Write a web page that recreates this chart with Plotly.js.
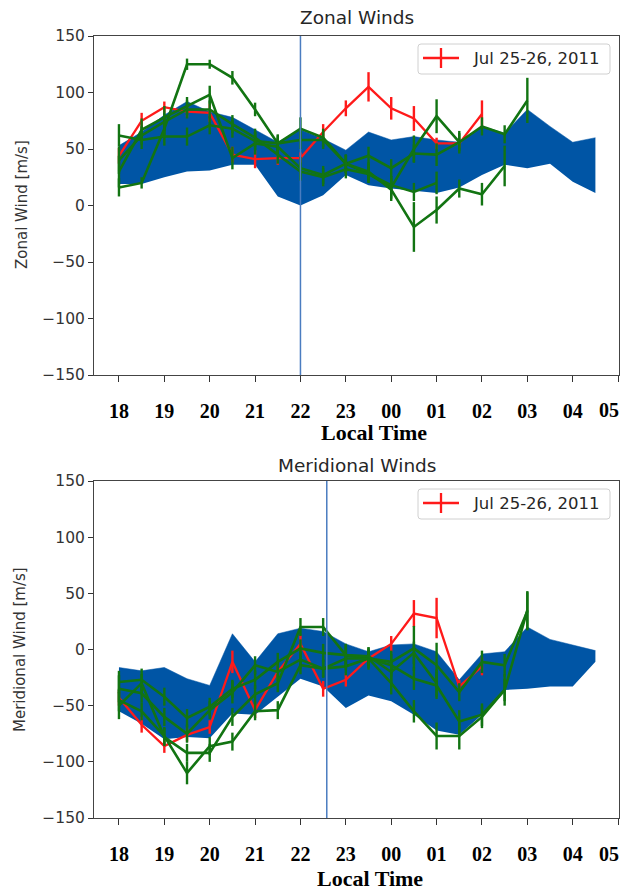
<!DOCTYPE html>
<html>
<head>
<meta charset="utf-8">
<script src="https://cdn.plot.ly/plotly-3.0.1.min.js"></script>
<style>
  html, body { margin: 0; padding: 0; background: #fff; }
  #chart { width: 622px; height: 893px; }
</style>
</head>
<body>
<div id="chart"></div>
<script>
// ---------- DATA ----------
const bandTimes = [18,18.5,19,19.5,20,20.5,21,21.5,22,22.5,23,23.5,24,24.5,25,25.5,26,26.5,27,27.5,28,28.5];
const redTimes = [18,18.5,19,19.5,20,20.5,21,21.5,22,22.5,23,23.5,24,24.5,25,25.5,26];
const greenTimes = [18,18.5,19,19.5,20,20.5,21,21.5,22,22.5,23,23.5,24,24.5,25,25.5,26,26.5,27];

const tickValues = [18,19,20,21,22,23,24,25,26,27,28,29];
const tickLabels = ['18','19','20','21','22','23','00','01','02','03','04','05'];
const yTicks = [-150,-100,-50,0,50,100,150];

// Zonal
const zonalUpper = [53,65,80,92,83,78,67,56,67,59,49,65,58,61,58,56,70,64,85,70,56,60];
const zonalLower = [19,19,25,30,31,36,36,8,0,9,27,18,15,13,11,16,27,36,33,37,21,11];
const zonalRed    = [44,75,87,83,82,45,41,42,42,65,86,105,86,77,55,55,81];
const zonalRedErr = [7,7,5,5,8,7,8,6,5,7,7,13,10,11,5,4,12];
const zonalG1    = [16,20,68,125,125,113,85,55,68,60,37,44,33,46,45,56,70,63,93];
const zonalG1Err = [8,5,8,5,4,6,6,7,10,8,8,8,8,8,10,8,8,8,20];
const zonalG2    = [30,67,78,88,98,42,55,52,33,27,37,28,16,50,79,56,null,null,null];
const zonalG2Err = [14,10,10,8,8,10,10,8,10,8,8,8,10,12,15,10,0,0,0];
const zonalG3    = [62,58,61,61,71,68,57,55,58,58,37,30,14,-19,-4,15,10,35,null];
const zonalG3Err = [10,8,8,8,8,8,8,8,8,8,8,8,10,22,12,8,10,18,0];
const zonalG4    = [40,62,74,85,85,72,60,45,30,25,32,28,18,12,20,null,null,null,null];
const zonalG4Err = [12,8,8,8,8,8,8,8,8,8,8,8,8,8,10,0,0,0,0];

// Meridional
const merUpper = [-16,-19,-16,-26,-32,14,-11,14,19,16,5,-2,4,5,-2,-27,-4,-2,20,9,4,-1];
const merLower = [-55,-66,-80,-78,-79,-57,-58,-42,-26,-33,-52,-41,-46,-58,-72,-76,-58,-36,-35,-33,-33,-11];
const merRed    = [-43,-67,-86,-76,-69,-11,-54,-20,5,-35,-27,-8,5,32,28,-33,-15];
const merRedErr = [7,7,6,6,6,10,7,8,8,7,6,6,7,12,18,6,8];
const merG1    = [-45,-55,-77,-110,-86,-82,-55,-54,-14,-17,-15,-8,-30,-55,-77,-77,-60,-36,35];
const merG1Err = [10,8,8,10,8,8,8,8,8,8,8,8,10,10,12,12,10,10,17];
const merG2    = [-29,-27,-42,-61,-51,-35,-27,-11,1,-3,-5,-8,-11,1,-14,-38,-11,-14,34];
const merG2Err = [10,10,8,8,8,8,8,8,8,8,10,10,10,20,20,8,10,10,17];
const merG3    = [-35,-39,-60,-75,-54,-38,-14,-20,-9,-17,-8,-8,-14,-26,-32,-64,-58,-36,null];
const merG3Err = [12,8,8,8,8,10,8,8,8,8,10,8,10,10,12,10,10,14,0];
const merG4    = [-50,-30,-78,-92,-92,-60,-40,-30,20,20,-5,-6,-20,-3,-30,null,null,null,null];
const merG4Err = [12,8,8,8,8,8,8,8,8,8,10,8,10,10,12,0,0,0,0];

const legendText = 'Jul 25-26, 2011';
const vlineTop = 22;
const vlineBottom = 22.58;

// ---------- STYLE ----------
const BAND = '#0055a5';
const GREEN = '#127412';
const RED = '#ff1a1a';
const VLINE = '#4a7cc0';

// page-pixel -> paper helpers (plot area: x 94..619, y 36..818)
const L = 94, R = 3, T = 36, B = 75, W = 622, H = 893;
const PW = W - L - R, PH = H - T - B;
const px = v => (v - L) / PW;
const py = v => (H - B - v) / PH;

function band(times, up, lo, xa, ya) {
  return [
    {x: times, y: lo, xaxis: xa, yaxis: ya, mode: 'lines', line: {width: 0, color: BAND}, hoverinfo: 'skip', showlegend: false},
    {x: times, y: up, xaxis: xa, yaxis: ya, mode: 'lines', line: {width: 0.5, color: BAND}, fill: 'tonexty', fillcolor: BAND, hoverinfo: 'skip', showlegend: false}
  ];
}
function series(times, vals, errs, color, xa, ya, w) {
  return {
    x: times, y: vals, xaxis: xa, yaxis: ya, mode: 'lines',
    line: {color: color, width: w},
    error_y: {type: 'data', array: errs, visible: true, color: color, thickness: 2.4, width: 0},
    showlegend: false, connectgaps: false
  };
}

const traces = [
  ...band(bandTimes, zonalUpper, zonalLower, 'x', 'y'),
  series(redTimes, zonalRed, zonalRedErr, RED, 'x', 'y', 2.3),
  series(greenTimes, zonalG1, zonalG1Err, GREEN, 'x', 'y', 2.6),
  series(greenTimes, zonalG2, zonalG2Err, GREEN, 'x', 'y', 2.6),
  series(greenTimes, zonalG3, zonalG3Err, GREEN, 'x', 'y', 2.6),
  series(greenTimes, zonalG4, zonalG4Err, GREEN, 'x', 'y', 2.6),
  ...band(bandTimes, merUpper, merLower, 'x2', 'y2'),
  series(redTimes, merRed, merRedErr, RED, 'x2', 'y2', 2.3),
  series(greenTimes, merG1, merG1Err, GREEN, 'x2', 'y2', 2.6),
  series(greenTimes, merG2, merG2Err, GREEN, 'x2', 'y2', 2.6),
  series(greenTimes, merG3, merG3Err, GREEN, 'x2', 'y2', 2.6),
  series(greenTimes, merG4, merG4Err, GREEN, 'x2', 'y2', 2.6)
];

// the last hour label sits at the page edge: draw it as a right-aligned annotation so it stays whole
const axisTickText = tickLabels.slice(0, -1).concat(['']);
const lastLabel = tickLabels[tickLabels.length - 1];

const TICKFONT = {family: 'Liberation Serif, Times New Roman, serif', size: 20, weight: 'bold', color: '#000'};
const xCommon = {
  range: [17.45, 29.02], tickmode: 'array', tickvals: tickValues, ticktext: axisTickText,
  ticks: 'outside', ticklen: 6, tickwidth: 1, tickcolor: '#333',
  ticklabelstandoff: 12, ticklabeloverflow: 'allow',
  tickfont: TICKFONT,
  showline: true, mirror: true, linecolor: '#444', linewidth: 1,
  showgrid: false, zeroline: false, fixedrange: true
};
const yCommon = {
  range: [-150, 150], tickmode: 'array', tickvals: yTicks,
  ticks: 'outside', ticklen: 5, tickwidth: 1, tickcolor: '#333',
  tickfont: {family: 'DejaVu Sans, sans-serif', size: 15.5, color: '#333'},
  showline: true, mirror: true, linecolor: '#444', linewidth: 1,
  showgrid: false, zeroline: false, fixedrange: true
};

function roundRect(x0, y0, x1, y1, r) {
  const X0 = px(x0), X1 = px(x1), Y0 = py(y0), Y1 = py(y1);
  const rx = r / PW, ry = r / PH;
  return `M ${X0 + rx} ${Y0} L ${X1 - rx} ${Y0} Q ${X1} ${Y0} ${X1} ${Y0 - ry} L ${X1} ${Y1 + ry} Q ${X1} ${Y1} ${X1 - rx} ${Y1} L ${X0 + rx} ${Y1} Q ${X0} ${Y1} ${X0} ${Y1 + ry} L ${X0} ${Y0 - ry} Q ${X0} ${Y0} ${X0 + rx} ${Y0} Z`;
}
function legendShapes(top) {
  const cy = top + 14;
  return [
    {type: 'path', xref: 'paper', yref: 'paper', path: roundRect(418, top, 610, top + 30, 3), fillcolor: 'rgba(255,255,255,0.9)', line: {color: '#d0d0d0', width: 1}, layer: 'above'},
    {type: 'line', xref: 'paper', yref: 'paper', x0: px(423), x1: px(459), y0: py(cy), y1: py(cy), line: {color: RED, width: 2.3}, layer: 'above'},
    {type: 'line', xref: 'paper', yref: 'paper', x0: px(441), x1: px(441), y0: py(cy - 10), y1: py(cy + 10), line: {color: RED, width: 2.3}, layer: 'above'}
  ];
}

const layout = {
  width: W, height: H,
  margin: {l: L, r: R, t: T, b: B},
  paper_bgcolor: '#fff', plot_bgcolor: '#fff',
  showlegend: false,
  xaxis: Object.assign({}, xCommon, {anchor: 'y', domain: [0, 1]}),
  yaxis: Object.assign({}, yCommon, {anchor: 'x', domain: [py(375), 1]}),
  xaxis2: Object.assign({}, xCommon, {anchor: 'y2', domain: [0, 1]}),
  yaxis2: Object.assign({}, yCommon, {anchor: 'x2', domain: [0, py(481)]}),
  shapes: [
    {type: 'line', xref: 'x', yref: 'y domain', x0: vlineTop, x1: vlineTop, y0: 0, y1: 1, line: {color: VLINE, width: 1.5}, layer: 'above'},
    {type: 'line', xref: 'x2', yref: 'y2 domain', x0: vlineBottom, x1: vlineBottom, y0: 0, y1: 1, line: {color: VLINE, width: 1.5}, layer: 'above'},
    ...legendShapes(44),
    ...legendShapes(489)
  ],
  annotations: [
    {text: 'Zonal Winds', xref: 'paper', yref: 'paper', x: px(357), y: py(18), showarrow: false, xanchor: 'center', yanchor: 'middle', font: {family: 'DejaVu Sans, sans-serif', size: 18.5, color: '#262626'}},
    {text: 'Meridional Winds', xref: 'paper', yref: 'paper', x: px(357), y: py(465), showarrow: false, xanchor: 'center', yanchor: 'middle', font: {family: 'DejaVu Sans, sans-serif', size: 18.5, color: '#262626'}},
    {text: 'Zonal Wind [m/s]', xref: 'paper', yref: 'paper', x: px(22), y: py(205), showarrow: false, textangle: -90, xanchor: 'center', yanchor: 'middle', font: {family: 'DejaVu Sans, sans-serif', size: 15, color: '#333'}},
    {text: 'Meridional Wind [m/s]', xref: 'paper', yref: 'paper', x: px(20), y: py(650), showarrow: false, textangle: -90, xanchor: 'center', yanchor: 'middle', font: {family: 'DejaVu Sans, sans-serif', size: 15, color: '#333'}},
    {text: '<b>Local Time</b>', xref: 'paper', yref: 'paper', x: px(374), y: py(432), showarrow: false, xanchor: 'center', yanchor: 'middle', font: {family: 'Liberation Serif, Times New Roman, serif', size: 22, color: '#000'}},
    {text: '<b>Local Time</b>', xref: 'paper', yref: 'paper', x: px(370), y: py(878), showarrow: false, xanchor: 'center', yanchor: 'middle', font: {family: 'Liberation Serif, Times New Roman, serif', size: 22, color: '#000'}},
    {text: '<b>' + lastLabel + '</b>', xref: 'paper', yref: 'paper', x: px(621), y: py(410), showarrow: false, xanchor: 'right', yanchor: 'middle', xshift: 0, font: TICKFONT},
    {text: '<b>' + lastLabel + '</b>', xref: 'paper', yref: 'paper', x: px(621), y: py(854), showarrow: false, xanchor: 'right', yanchor: 'middle', xshift: 0, font: TICKFONT},
    {text: legendText, xref: 'paper', yref: 'paper', x: px(471), y: py(58), showarrow: false, xanchor: 'left', yanchor: 'middle', font: {family: 'DejaVu Sans, sans-serif', size: 16.5, color: '#262626'}},
    {text: legendText, xref: 'paper', yref: 'paper', x: px(471), y: py(503), showarrow: false, xanchor: 'left', yanchor: 'middle', font: {family: 'DejaVu Sans, sans-serif', size: 16.5, color: '#262626'}}
  ]
};

Plotly.newPlot('chart', traces, layout, {displayModeBar: false, staticPlot: true});
</script>
</body>
</html>
